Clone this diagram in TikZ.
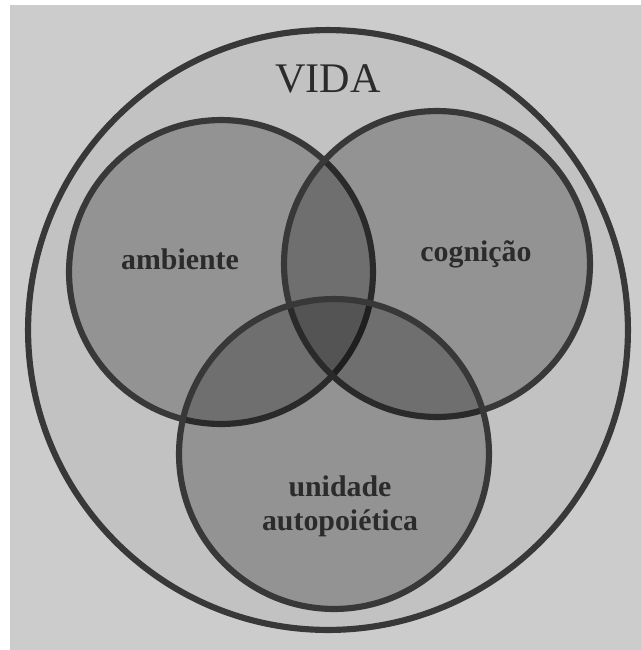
\documentclass[tikz,border=0pt]{standalone}
\usepackage{fontspec}
\setmainfont{Liberation Serif}
\usepackage{xcolor}
\usetikzlibrary{positioning}
\definecolor{paper}{gray}{0.80}
\definecolor{ink}{gray}{0.17}
\definecolor{rimcol}{gray}{0.22}

\begin{document}
\begin{tikzpicture}[x=0.02cm, y=-0.02cm,
  rim/.style={circle, draw=rimcol, line width=3.5pt, inner sep=0pt},
  zone/.style={rim, fill=black, fill opacity=0.24, text opacity=1},
  tag/.style={text=ink, font=\fontsize{17}{19.5}\selectfont\bfseries, align=center}]
  \useasboundingbox (0,0) rectangle (641,650);
  \fill[white] (0,0) rectangle (641,650);
  \fill[paper] (10,5) rectangle (641,650);
  \node[rim, fill=paper!95!black, minimum size=12cm] (vida) at (328,330) {};
  \node[zone, minimum size=6.08cm] (amb) at (221,272) {};
  \node[zone, minimum size=6.12cm] (cog) at (437,264) {};
  \node[zone, minimum size=6.2cm]  (uni) at (334,454) {};
  % labels
  \node[text=ink, font=\fontsize{24}{28}\selectfont] (vidatxt) at (328,79) {VIDA};
  \node[tag] (ambtxt) at (180,259) {ambiente};
  \node[tag] (cogtxt) at (476,254) {cognição};
  \node[tag] (unitxt) at (340,506) {unidade\\autopoiética};
\end{tikzpicture}
\end{document}
